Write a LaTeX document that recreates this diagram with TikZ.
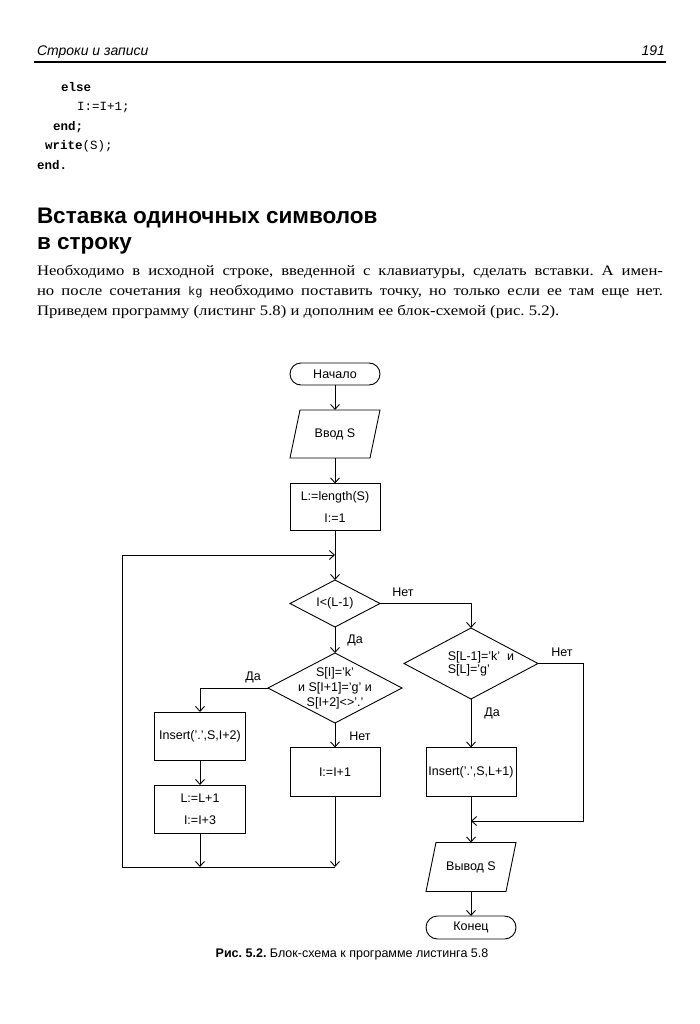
\documentclass[tikz,border=0pt]{standalone}
\usepackage{fontspec}
\setmainfont{Liberation Serif}
\setsansfont{Liberation Sans}
\setmonofont{Liberation Mono}
\newfontfamily\bodyfont[FakeStretch=1.15,Ligatures=TeX]{Liberation Serif}
\usetikzlibrary{arrows.meta,shapes.misc}
\begin{document}
\frenchspacing
\begin{tikzpicture}[x=1pt,y=-1pt,
  every node/.style={inner sep=0pt, outer sep=0pt},
  fc/.style={font=\sffamily\fontsize{12.5}{15}\selectfont},
  ln/.style={line width=0.9pt},
  term/.style={fc, draw, ln, rounded rectangle, minimum width=90pt, minimum height=22pt},
  proc/.style={draw, ln, rectangle, minimum width=90pt, minimum height=48pt, align=center, font=\sffamily\fontsize{12.5}{22}\selectfont},
  ioshape/.style={fc, minimum width=80pt, minimum height=48pt},
  dshape/.style={minimum width=134pt, minimum height=70pt, align=center},
  lbl/.style={fc},
  arr/.style={ln, -{Straight Barb[length=5pt,width=9pt,line width=0.9pt]}},
  codef/.style={anchor=base west, font=\ttfamily\fontsize{12.5}{15}\selectfont},
  para/.style={anchor=base west, font=\bodyfont\fontsize{14.5}{16}\selectfont},
]
\useasboundingbox (0,0) rectangle (700,1024);
\fill[white] (0,0) rectangle (700,1024);

% header
\node[anchor=base west, font=\sffamily\itshape\fontsize{14}{16}\selectfont] (hd) at (37,56) {Строки и записи};
\node[anchor=base east, font=\sffamily\itshape\fontsize{14}{16}\selectfont] (pg) at (665,56) {191};
\draw[line width=1.3pt] (34,62) -- (666,62);

% code
\node[codef] (c1) at (61,92) {\bfseries else};
\node[codef] (c2) at (77,111) {I:=I+1;};
\node[codef] (c3) at (53,131) {\bfseries end;};
\node[codef] (c4) at (45,150) {\textbf{write}(S);};
\node[codef] (c5) at (37,170) {\bfseries end.};

% heading
\node[anchor=base west, font=\sffamily\bfseries\fontsize{22.5}{26}\selectfont] (h1) at (37,223) {Вставка одиночных символов};
\node[anchor=base west, font=\sffamily\bfseries\fontsize{22.5}{26}\selectfont] (h2) at (37,249) {в строку};

% paragraph
\node[para] (p1) at (37,275) {\makebox[626pt][s]{Необходимо в исходной строке, введенной с клавиатуры, сделать вставки. А имен-}};
\node[para] (p2) at (37,295) {\makebox[626pt][s]{но после сочетания {\ttfamily\fontsize{12}{14}\selectfont kg} необходимо поставить точку, но только если ее там еще нет.}};
\node[para] (p3) at (37,315) {Приведем программу (листинг 5.8) и дополним ее блок-схемой (рис. 5.2).};

% flowchart nodes
\node[term] (start) at (335,374) {Начало};
\node[ioshape] (vvod) at (335,434) {Ввод S};
\draw[ln] ([xshift=5pt]vvod.north west) -- ([xshift=5pt]vvod.north east) -- ([xshift=-5pt]vvod.south east) -- ([xshift=-5pt]vvod.south west) -- cycle;
\node[proc, minimum height=47pt] (b1) at (335,507) {L:=length(S)\\I:=1};
\node[dshape, fc, minimum width=90pt, minimum height=47pt] (d1) at (335,603.5) {I<(L-1)};
\draw[ln] (d1.north) -- (d1.east) -- (d1.south) -- (d1.west) -- cycle;
\node[dshape, font=\sffamily\fontsize{12.5}{15}\selectfont] (d2) at (335,688) {S[I]='k'\\и S[I+1]='g' и\\S[I+2]<>'.'};
\draw[ln] (d2.north) -- (d2.east) -- (d2.south) -- (d2.west) -- cycle;
\node[proc, minimum width=91pt] (ins1) at (200,736) {Insert('.',S,I+2)};
\node[proc, minimum width=91pt] (b2) at (200,809) {L:=L+1\\I:=I+3};
\node[proc, minimum height=49pt] (b3) at (335,772) {I:=I+1};
\node[dshape, minimum height=71pt] (d3) at (471,663.5) {};
\draw[ln] (d3.north) -- (d3.east) -- (d3.south) -- (d3.west) -- cycle;
\node[align=left, font=\sffamily\fontsize{12.5}{13}\selectfont] (d3t) at ([xshift=10pt]d3.center) {S[L-1]='k'~~и\\S[L]='g'};
\node[proc, minimum height=49pt] (ins2) at (471,772) {Insert('.',S,L+1)};
\node[ioshape, minimum height=49pt] (vyvod) at (471,867) {Вывод S};
\draw[ln] ([xshift=5pt]vyvod.north west) -- ([xshift=5pt]vyvod.north east) -- ([xshift=-5pt]vyvod.south east) -- ([xshift=-5pt]vyvod.south west) -- cycle;
\node[term, minimum height=23pt] (kon) at (471,927.5) {Конец};

% coordinates
\coordinate (j1) at (335,555);
\coordinate (lc1) at (122,555);
\coordinate (lc2) at (122,867);
\coordinate (j2) at (200,867);
\coordinate (j3) at (335,867);
\coordinate (r1) at (583,821);
\coordinate (j4) at (471,821);

% connectors
\draw[arr] (start.south) -- (vvod.north);
\draw[arr] (vvod.south) -- (b1.north);
\draw[arr] (b1.south) -- (d1.north);
\draw[arr] (j3) -- (lc2) -- (lc1) -- (j1);
\draw[arr] (d1.south) -- (d2.north);
\draw[arr] (d2.west) -| (ins1.north);
\draw[arr] (ins1.south) -- (b2.north);
\draw[arr] (b2.south) -- (j2);
\draw[arr] (d2.south) -- (b3.north);
\draw[arr] (b3.south) -- (j3);
\draw[arr] (d1.east) -| (d3.north);
\draw[arr] (d3.south) -- (ins2.north);
\draw[arr] (d3.east) -| (r1) -- (j4);
\draw[arr] (ins2.south) -- (vyvod.north);
\draw[arr] (vyvod.south) -- (kon.north);

% labels
\node[lbl] (l1) at (403,592) {Нет};
\node[lbl] (l2) at (355,640) {Да};
\node[lbl] (l3) at (253,677) {Да};
\node[lbl] (l4) at (360,736) {Нет};
\node[lbl] (l5) at (562,652) {Нет};
\node[lbl] (l6) at (492,713) {Да};

% caption
\node[anchor=base, font=\sffamily\fontsize{12.5}{14}\selectfont] (cap) at (352,957) {\textbf{Рис. 5.2.} Блок-схема к программе листинга 5.8};
\end{tikzpicture}
\end{document}
